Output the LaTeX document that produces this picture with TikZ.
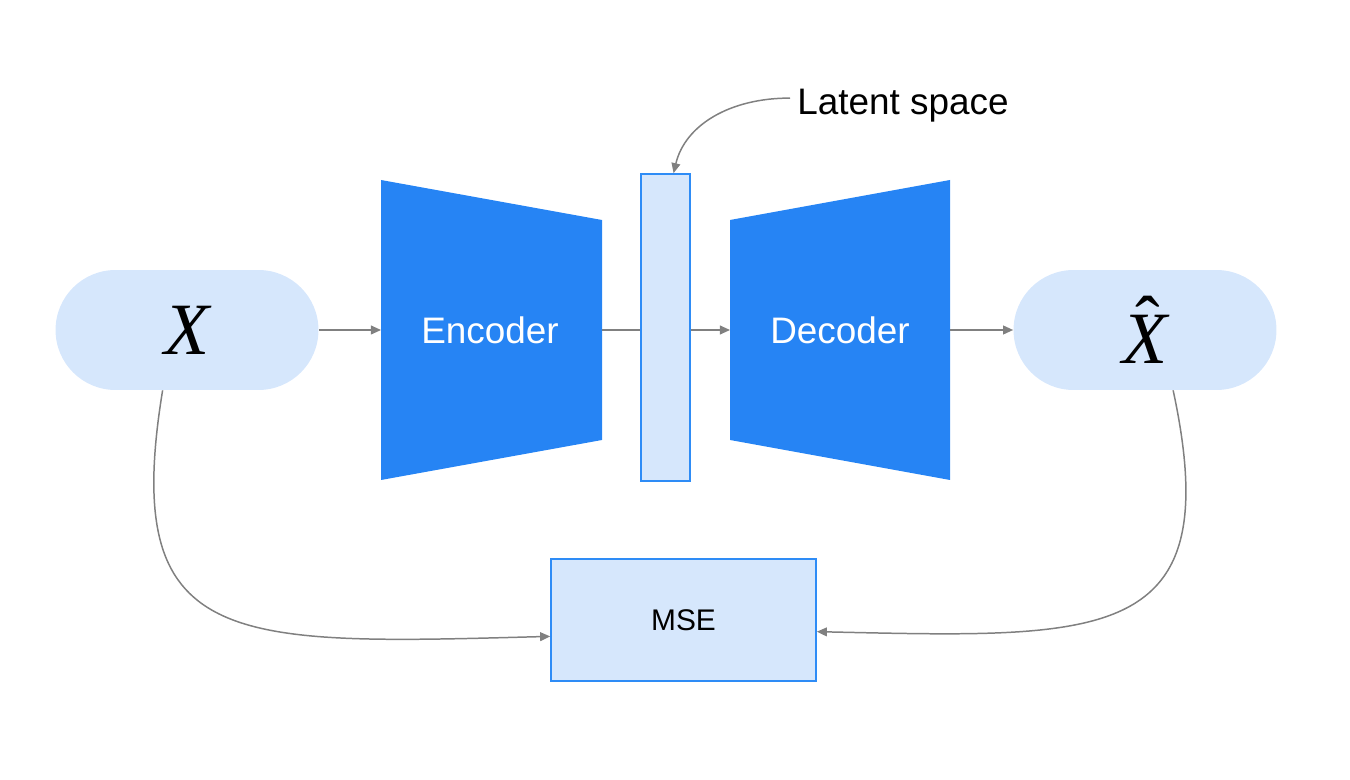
\documentclass[tikz,border=0pt]{standalone}
\usepackage{fontspec}
\setmainfont{Liberation Sans}
\newfontfamily\serifit{Liberation Serif}
\usetikzlibrary{arrows.meta}
\definecolor{deepblue}{HTML}{2684F4}
\definecolor{paleblue}{HTML}{D6E7FC}
\definecolor{edgeblue}{HTML}{2E8CF6}
\definecolor{linegray}{HTML}{808080}

\begin{document}
\begin{tikzpicture}[x=0.02cm, y=-0.02cm,
  every node/.style={font=\fontsize{21}{25}\selectfont},
  pill/.style={fill=paleblue, minimum width=5.26cm, minimum height=2.4cm, rounded corners=1.2cm, inner sep=0pt,
    font=\fontsize{42}{42}\selectfont\serifit\itshape},
  box/.style={fill=paleblue, draw=edgeblue, line width=1pt, inner sep=0pt},
  wire/.style={draw=linegray, line width=0.85pt},
  link/.style={wire, -{Triangle[length=5.7pt,width=5pt]}}]
\useasboundingbox (0,0) rectangle (1350,780);

% input and output
\node[pill] (x) at (187,330) {X};
\node[pill] (xh) at (1145,330)
  {\makebox[0pt][l]{\kern0.17em\raisebox{0.22em}{\upshape ˆ}}X};

% encoder / decoder blocks
\fill[deepblue] (381,180) -- (602,220) -- (602,440) -- (381,480) -- cycle;
\fill[deepblue] (730,220) -- (950,180) -- (950,480) -- (730,440) -- cycle;
\node[text=white] (enc) at (490,330) {Encoder};
\node[text=white] (dec) at (840,330) {Decoder};
\coordinate (enc-in) at (381,330);
\coordinate (enc-out) at (602,330);
\coordinate (dec-in) at (730,330);
\coordinate (dec-out) at (950,330);

\node[box, minimum width=0.98cm, minimum height=6.14cm] (lat) at (665.5,327.5) {};
\node[box, minimum width=5.3cm, minimum height=2.44cm, font=\fontsize{17}{20}\selectfont] (mse) at (683.5,620) {MSE};
\node[anchor=west, inner xsep=4pt, inner ysep=0pt] (lbl) at (790,106) {Latent space};

\draw[link] (x) -- (enc-in);
\draw[wire] (enc-out) -- (enc-out -| lat.west);
\draw[link] (lat.east |- dec-in) -- (dec-in);
\draw[link] (dec-out) -- (xh);
\draw[link] (lbl.176) .. controls (730,98) and (685,125) .. (lat.87);
\draw[link] (x.248) .. controls (120,650) and (230,645) .. (mse.187);
\draw[link] (xh.295) .. controls (1228,645) and (1105,638) .. (mse.355);

\end{tikzpicture}
\end{document}
